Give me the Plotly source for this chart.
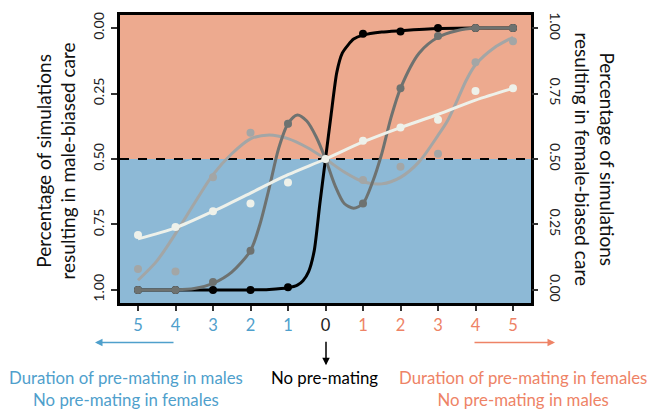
import plotly.graph_objects as go

# ---- data (fraction of simulations resulting in female-biased care; left axis = 1 - value)
x_pts = [-5, -4, -3, -2, -1, 0, 1, 2, 3, 4, 5]
x_tick_labels = ["5", "4", "3", "2", "1", "0", "1", "2", "3", "4", "5"]
y_tick_vals = [0, 0.25, 0.5, 0.75, 1.0]
y_left_labels = ["1.00", "0.75", "0.50", "0.25", "0.00"]
y_right_labels = ["0.00", "0.25", "0.50", "0.75", "1.00"]

black_pts = [0, 0, 0, 0, 0.01, 0.5, 0.978, 0.987, 1.0, 1.0, 1.0]
dark_pts = [0, 0, 0.03, 0.15, 0.635, 0.5, 0.33, 0.77, 0.97, 1.0, 1.0]
light_pts = [0.08, 0.07, 0.43, 0.60, 0.635, 0.5, 0.42, 0.47, 0.52, 0.87, 0.95]
white_pts = [0.21, 0.24, 0.30, 0.33, 0.41, 0.5, 0.57, 0.62, 0.65, 0.76, 0.77]

# fitted curves
black_cx = [-5, -4, -3, -2, -1.5, -1, -0.75, -0.6, -0.45, -0.3, -0.15, 0, 0.15, 0.3, 0.45, 0.6, 0.75, 1, 1.5, 2, 3, 4, 5]
black_cy = [0, 0, 0, 0, 0.002, 0.008, 0.018, 0.035, 0.07, 0.15, 0.33, 0.5, 0.67, 0.83, 0.905, 0.935, 0.958, 0.973, 0.985, 0.99, 0.998, 1, 1]

dark_cx = [-5, -4, -3.5, -3, -2.5, -2, -1.75, -1.5, -1.25, -1, -0.75, -0.5, -0.25, 0, 0.25, 0.5, 0.75, 1, 1.25, 1.5, 1.75, 2, 2.5, 3, 3.5, 4, 5]
dark_cy = [0, 0, 0.005, 0.025, 0.068, 0.15, 0.25, 0.39, 0.54, 0.635, 0.668, 0.645, 0.585, 0.5, 0.40, 0.33, 0.312, 0.33, 0.41, 0.52, 0.66, 0.77, 0.905, 0.965, 0.99, 1, 1]

light_cx = [-5, -4.5, -4, -3.5, -3, -2.5, -2, -1.5, -1, -0.5, 0, 0.5, 1, 1.5, 2, 2.5, 3, 3.25, 3.5, 3.75, 4, 4.5, 5]
light_cy = [0.037, 0.11, 0.215, 0.33, 0.44, 0.52, 0.577, 0.592, 0.578, 0.545, 0.5, 0.45, 0.413, 0.405, 0.43, 0.49, 0.59, 0.645, 0.72, 0.8, 0.86, 0.925, 0.965]

white_cx = [-5, -4, -3, -2, -1, 0, 1, 2, 3, 4, 5]
white_cy = [0.195, 0.237, 0.30, 0.37, 0.44, 0.5, 0.565, 0.62, 0.67, 0.725, 0.77]

BLUE_TXT = "#4fa0cc"
ORANGE_TXT = "#ee8366"
FONT = "Lato"

series = [
    ("light", light_cx, light_cy, light_pts, "#a3a6a6", 0.8),
    ("black", black_cx, black_cy, black_pts, "#000000", 0.6),
    ("dark", dark_cx, dark_cy, dark_pts, "#6e7270", 0.8),
    ("white", white_cx, white_cy, white_pts, "#eef1ea", 0.8),
]

fig = go.Figure()
for name, cx, cy, pts, col, sm in series:
    fig.add_trace(go.Scatter(x=cx, y=cy, mode="lines", line=dict(color=col, width=3, shape="spline", smoothing=sm),
                             showlegend=False, hoverinfo="skip"))
    fig.add_trace(go.Scatter(x=x_pts, y=pts, mode="markers", marker=dict(color=col, size=8),
                             showlegend=False, name=name))

# invisible trace to anchor the right axis
fig.add_trace(go.Scatter(x=[0], y=[0.5], yaxis="y2", mode="markers", marker=dict(opacity=0),
                         showlegend=False, hoverinfo="skip"))

tick_text = []
for i, t in enumerate(x_tick_labels):
    c = BLUE_TXT if x_pts[i] < 0 else (ORANGE_TXT if x_pts[i] > 0 else "#222222")
    tick_text.append(f"<span style='color:{c}'>{t}</span>")

L, R, T, B = 120, 121, 12, 108
W, H = 652, 411
pw, ph = W - L - R, H - T - B

def px(xp):
    return (xp - L) / pw

def py(yp):
    return (H - B - yp) / ph

fig.update_layout(
    width=W, height=H,
    margin=dict(l=L, r=R, t=T, b=B),
    paper_bgcolor="white", plot_bgcolor="white",
    font=dict(family=FONT, color="#222222"),
    xaxis=dict(range=[-5.48, 5.48], tickvals=x_pts, ticktext=tick_text, ticks="outside", ticklen=5,
               tickwidth=1.5, tickcolor="#333333", showgrid=False, zeroline=False,
               showline=True, linecolor="black", linewidth=2.5, mirror=True,
               tickfont=dict(size=16.5, family=FONT)),
    yaxis=dict(range=[-0.05, 1.05], tickvals=y_tick_vals, ticktext=y_left_labels, tickangle=-90,
               ticks="outside", ticklen=6, tickwidth=1.5, tickcolor="#333333", ticklabelstandoff=2,
               showgrid=False, zeroline=False, showline=True, linecolor="black", linewidth=2.5, mirror=True,
               tickfont=dict(size=14, family=FONT)),
    yaxis2=dict(range=[-0.05, 1.05], overlaying="y", side="right", tickvals=y_tick_vals,
                ticktext=y_right_labels, tickangle=90, ticks="outside", ticklen=6, tickwidth=1.5,
                tickcolor="#333333", ticklabelstandoff=6, showgrid=False, zeroline=False, showline=False,
                tickfont=dict(size=14, family=FONT)),
    shapes=[
        dict(type="rect", xref="paper", yref="y", x0=0, x1=1, y0=0.5, y1=1.05,
             fillcolor="#edaa8f", line=dict(width=0), layer="below"),
        dict(type="rect", xref="paper", yref="y", x0=0, x1=1, y0=-0.05, y1=0.5,
             fillcolor="#8db9d6", line=dict(width=0), layer="below"),
        dict(type="line", xref="paper", yref="y", x0=0, x1=1, y0=0.5, y1=0.5,
             line=dict(color="black", width=2, dash="dash"), layer="below"),
    ],
)

C = dict(xanchor="center", yanchor="middle", showarrow=False, xref="paper", yref="paper")
ann = []
ann.append(dict(**C, x=px(56), y=py(160), text="Percentage of simulations<br>resulting in male-biased care",
                textangle=-90, font=dict(size=19, family=FONT, color="#111111")))
ann.append(dict(**C, x=px(595), y=py(157), text="Percentage of simulations<br>resulting in female-biased care",
                textangle=90, font=dict(size=19, family=FONT, color="#111111")))
# texts
ann.append(dict(**C, x=px(126), y=py(389), text="Duration of pre-mating in males<br>No pre-mating in females",
                font=dict(size=16.8, family=FONT, color=BLUE_TXT)))
ann.append(dict(**C, x=px(324), y=py(378), text="No pre-mating",
                font=dict(size=16.8, family=FONT, color="black")))
ann.append(dict(**C, x=px(523), y=py(389), text="Duration of pre-mating in females<br>No pre-mating in males",
                font=dict(size=16.8, family=FONT, color=ORANGE_TXT)))
# arrows
A = dict(xref="paper", yref="paper", axref="pixel", ayref="pixel", text="", showarrow=True,
         arrowhead=2, arrowsize=1, arrowwidth=1.5)
ann.append(dict(**A, x=px(95), y=py(343), ax=80, ay=0, arrowcolor=BLUE_TXT))
ann.append(dict(**A, x=px(555), y=py(343), ax=-82, ay=0, arrowcolor=ORANGE_TXT))
ann.append(dict(**A, x=px(326), y=py(366), ax=0, ay=-25, arrowcolor="black"))
fig.update_layout(annotations=ann)

fig.write_html("out.html", post_script="document.body.style.margin='0';",
               config={"displayModeBar": False})
